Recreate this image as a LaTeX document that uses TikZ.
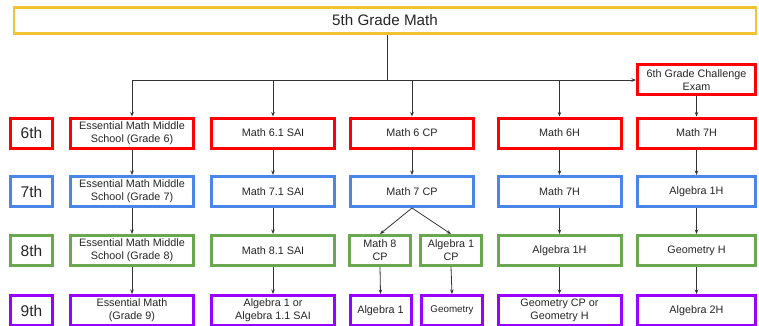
\documentclass[tikz,border=0pt]{standalone}
\usepackage{fontspec}
\setmainfont{Liberation Sans}
\usetikzlibrary{arrows.meta}
\definecolor{cRed}{HTML}{FF0000}
\definecolor{cBlue}{HTML}{4A86E8}
\definecolor{cGreen}{HTML}{6AA84F}
\definecolor{cPurple}{HTML}{9900FF}
\definecolor{cYellow}{HTML}{F1C232}
\definecolor{cLine}{HTML}{333333}
\begin{document}
\begin{tikzpicture}[x=1pt,y=-1pt,
  box/.style={draw, line width=3pt, fill=white, inner sep=1pt, align=center,
    font=\fontsize{10.8}{13.2}\selectfont, text=black!85},
  wide/.style={box, minimum width=123pt, minimum height=30pt},
  narrow/.style={box, minimum width=61pt, minimum height=30pt},
  lbl/.style={box, minimum width=42pt, minimum height=30pt, font=\fontsize{15.5}{18}\selectfont},
  g6/.style={draw=cRed}, g7/.style={draw=cBlue}, g8/.style={draw=cGreen}, g9/.style={draw=cPurple},
  conn/.style={draw=cLine, line width=0.8pt},
  arr/.style={conn, -{Stealth[length=4.5pt,width=3.5pt]}}]
\useasboundingbox (0,0) rectangle (759,326);
\clip (0,0) rectangle (759,326);
\fill[white] (0,0) rectangle (759,326);
% top
\node[box, draw=cYellow, line width=2.5pt, minimum width=742pt, minimum height=26pt,
  font=\fontsize{15.2}{18}\selectfont] (top) at (385,20.5) {5th Grade Math};
\node[box, g6, minimum width=118pt, minimum height=30pt] (ch) at (696.5,80) {6th Grade Challenge\\Exam};
% labels
\node[lbl, g6] (l6) at (31.5,133) {6th};
\node[lbl, g7] (l7) at (31.5,191.5) {7th};
\node[lbl, g8] (l8) at (31.5,250.5) {8th};
\node[lbl, g9] (l9) at (31.5,310.5) {9th};
% row 6
\node[wide, g6] (a6) at (132,133) {Essential Math Middle\\School (Grade 6)};
\node[wide, g6] (b6) at (273,133) {Math 6.1 SAI};
\node[wide, g6] (c6) at (412,133) {Math 6 CP};
\node[wide, g6] (d6) at (559.5,133) {Math 6H};
\node[box, g6, minimum width=118pt, minimum height=30pt] (e6) at (696.5,133) {Math 7H};
% row 7
\node[wide, g7] (a7) at (132,191.5) {Essential Math Middle\\School (Grade 7)};
\node[wide, g7] (b7) at (273,191.5) {Math 7.1 SAI};
\node[wide, g7] (c7) at (412,191.5) {Math 7 CP};
\node[wide, g7] (d7) at (559.5,191.5) {Math 7H};
\node[box, g7, minimum width=118pt, minimum height=30pt] (e7) at (696.5,191.5) {Algebra 1H};
% row 8
\node[wide, g8] (a8) at (132,250.5) {Essential Math Middle\\School (Grade 8)};
\node[wide, g8] (b8) at (273,250.5) {Math 8.1 SAI};
\node[narrow, g8] (c8a) at (380,250.5) {Math 8\\CP};
\node[narrow, g8] (c8b) at (451,250.5) {Algebra 1\\CP};
\node[wide, g8] (d8) at (559.5,250.5) {Algebra 1H};
\node[box, g8, minimum width=118pt, minimum height=30pt] (e8) at (696.5,250.5) {Geometry H};
% row 9
\node[wide, g9] (a9) at (132,310.5) {Essential Math\\(Grade 9)};
\node[wide, g9] (b9) at (273,310.5) {Algebra 1 or\\Algebra 1.1 SAI};
\node[narrow, g9] (c9a) at (380.5,310.5) {Algebra 1};
\node[narrow, g9, font=\fontsize{9.8}{12}\selectfont] (c9b) at (452,310.5) {Geometry};
\node[wide, g9] (d9) at (559.5,310.5) {Geometry CP or\\Geometry H};
\node[box, g9, minimum width=118pt, minimum height=30pt] (e9) at (696.5,310.5) {Algebra 2H};
% connectors from top
\coordinate (j) at (387,80);
\draw[conn] (top.south -| j) -- (j);
\draw[arr] (a6.north |- j) -- (ch.west);
\draw[arr] (a6.north |- j) -- (a6.north);
\draw[arr] (b6.north |- j) -- (b6.north);
\draw[arr] (c6.north |- j) -- (c6.north);
\draw[arr] (d6.north |- j) -- (d6.north);
\draw[arr] (ch.south) -- (e6.north);
% row 6 -> 7
\foreach \p in {a,b,c,d,e}{\draw[arr] (\p6.south) -- (\p7.north);}
% row 7 -> 8
\draw[arr] (a7.south) -- (a8.north);
\draw[arr] (b7.south) -- (b8.north);
\draw[arr] (c7.south) -- (c8a.north);
\draw[arr] (c7.south) -- (c8b.north);
\draw[arr] (d7.south) -- (d8.north);
\draw[arr] (e7.south) -- (e8.north);
% row 8 -> 9
\draw[arr] (a8.south) -- (a9.north);
\draw[arr] (b8.south) -- (b9.north);
\draw[arr] (c8a.south) -- (c9a.north);
\draw[arr] (c8b.south) -- (c9b.north);
\draw[arr] (d8.south) -- (d9.north);
\draw[arr] (e8.south) -- (e9.north);
\end{tikzpicture}
\end{document}
